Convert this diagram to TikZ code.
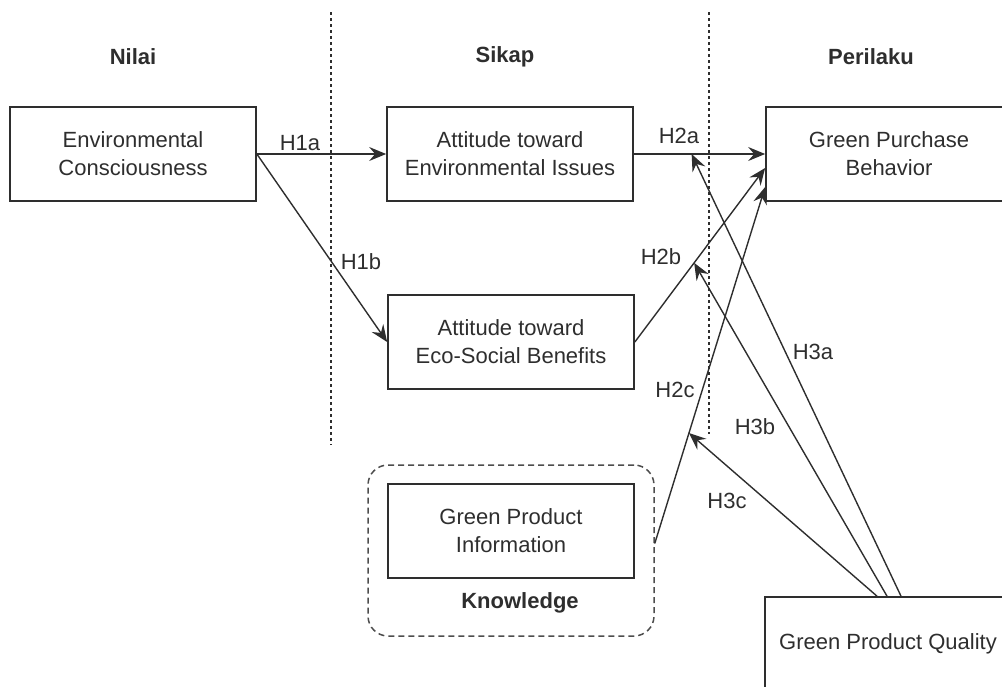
\documentclass[tikz,border=0pt]{standalone}
\usepackage{fontspec}
\setmainfont{Liberation Sans}
\usetikzlibrary{arrows.meta,calc}
\definecolor{ink}{HTML}{2E2E2E}
\begin{document}
\begin{tikzpicture}[x=0.5pt,y=-0.5pt,
  box/.style={draw=ink,line width=0.85pt,minimum width=123pt,minimum height=47pt,
    align=center,text=ink,font=\fontsize{11}{14}\selectfont},
  grp/.style={draw=ink!85,line width=0.75pt,dash pattern=on 3pt off 2pt,
    rounded corners=10pt,minimum width=143pt,minimum height=85.5pt},
  head/.style={font=\fontsize{11}{14}\selectfont\bfseries,text=ink},
  lbl/.style={font=\fontsize{11}{14}\selectfont,text=ink,inner sep=0pt},
  link/.style={draw=ink,line width=0.7pt,-{Stealth[length=8.5pt,width=7pt,inset=3pt]}},
  sep/.style={draw=ink,line width=0.7pt,dash pattern=on 1.5pt off 1.5pt}]
  \useasboundingbox (0,0) rectangle (1002,686);
  \clip (0,0) rectangle (1002,686);
  % columns
  \node[head] (nilai) at (133,57) {Nilai};
  \node[head] (sikap) at (505,57) {Sikap};
  \node[head] (perilaku) at (871,57) {Perilaku};
  \draw[sep] (331,12) -- (331,445);
  \draw[sep] (709,12) -- (709,434);
  % constructs
  \node[box] (ec) at (133,154) {Environmental\\Consciousness};
  \node[box] (aei) at (510,154) {Attitude toward\\Environmental Issues};
  \node[box] (aesb) at (511,342) {Attitude toward\\Eco-Social Benefits};
  \node[grp] (know) at (511,550.5) {};
  \node[box] (gpi) at (511,531) {Green Product\\Information};
  \node[head] (knowlbl) at (520,603) {Knowledge};
  \node[box] (gpb) at (889,154) {Green Purchase\\Behavior};
  \node[box] (gpq) at (888,644) {Green Product Quality};
  % paths
  \draw[link] (ec.east) -- (aei.west);
  \draw[link] (ec.east) -- (aesb.west);
  \draw[link] (aei.east) -- (gpb.west) coordinate[pos=0.44] (m2a);
  \draw[link] (aesb.east) -- ($(gpb.west)+(0,14)$) coordinate[pos=0.455] (m2b);
  \draw[link] ($(know.east)+(0,-7)$) -- ($(gpb.west)+(0,33)$) coordinate[pos=0.31] (m2c);
  \draw[link] ($(gpq.north)+(13,0)$) -- (m2a);
  \draw[link] ($(gpq.north)+(-1,0)$) -- (m2b);
  \draw[link] ($(gpq.north)+(-11,0)$) -- (m2c);
  % labels
  \node[lbl] (h1a) at (300,143) {H1a};
  \node[lbl] (h1b) at (361,262) {H1b};
  \node[lbl] (h2a) at (679,136) {H2a};
  \node[lbl] (h2b) at (661,257) {H2b};
  \node[lbl] (h2c) at (675,390) {H2c};
  \node[lbl] (h3a) at (813,352) {H3a};
  \node[lbl] (h3b) at (755,427) {H3b};
  \node[lbl] (h3c) at (727,501) {H3c};
\end{tikzpicture}
\end{document}
